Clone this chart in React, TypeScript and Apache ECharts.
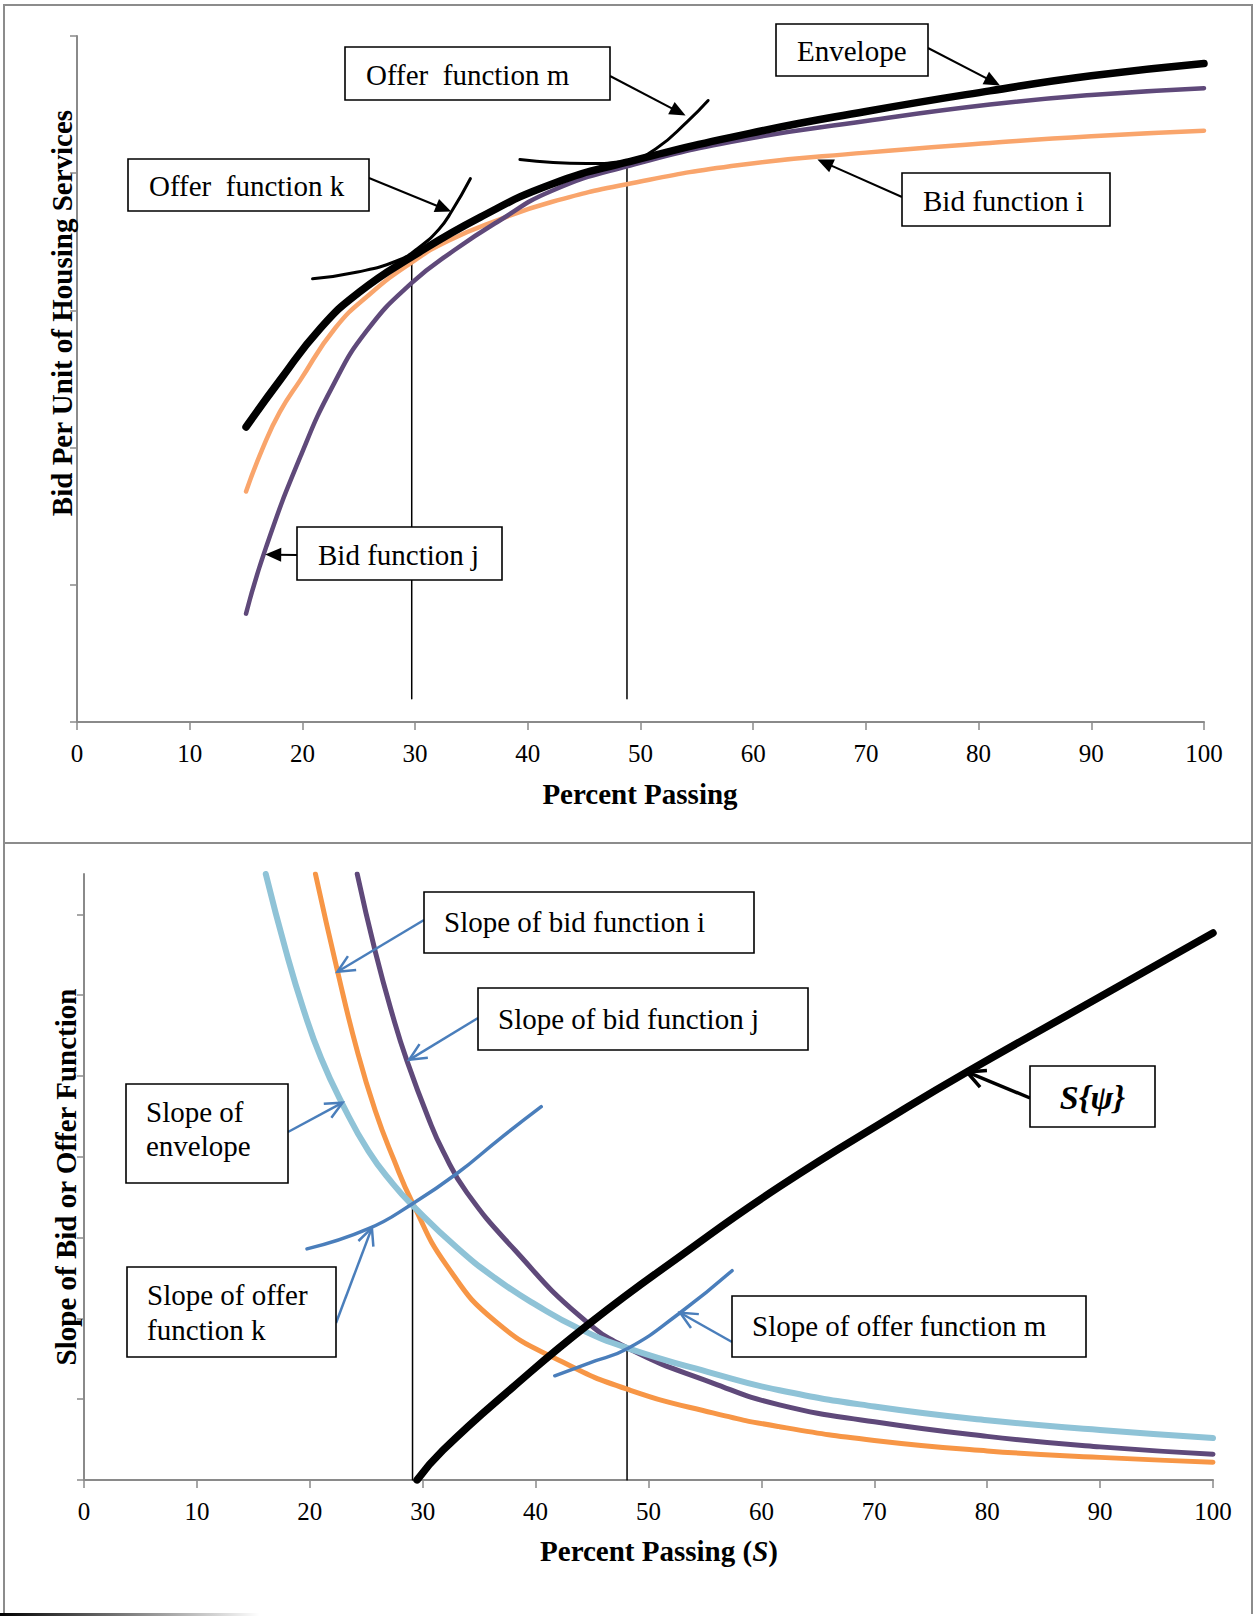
import React, { useEffect, useRef } from 'react';
import * as echarts from 'echarts';

// ---------- axis ticks ----------
const X_MIN = 0;
const X_MAX = 100;
const X_STEP = 10;
const TOP_Y_MAX = 5;
const BOT_Y_MAX = 7.5;
const BOT_Y_TICKS = [0, 1, 2, 3, 4, 5, 6, 7];

// ---------- top panel: bid / offer functions ----------
const envelope = [[15, 2.15], [18, 2.49], [21.6, 2.87], [25, 3.13], [29.7, 3.39], [35.8, 3.68], [42.1, 3.92], [48.8, 4.08], [59.7, 4.29], [70, 4.45], [81, 4.6], [90, 4.71], [100, 4.8]];
const bidI = [[15, 1.68], [16.5, 2.0], [18, 2.26], [19.8, 2.49], [22.9, 2.87], [26, 3.12], [29.7, 3.35], [33, 3.51], [37.4, 3.66], [42.1, 3.79], [48.8, 3.92], [58.8, 4.06], [70, 4.15], [81, 4.22], [90, 4.27], [100, 4.31]];
const bidJ = [[15, 0.79], [16.8, 1.28], [19.8, 1.93], [22.7, 2.45], [25.7, 2.85], [29.7, 3.2], [33.5, 3.44], [37.4, 3.65], [42.1, 3.87], [48.8, 4.05], [58.8, 4.24], [70, 4.38], [81, 4.5], [90, 4.57], [100, 4.62]];
const offerK = [[20.9, 3.23], [24.9, 3.28], [28.35, 3.36], [30.2, 3.45], [32.1, 3.59], [33.3, 3.73], [34.9, 3.96]];
const offerM = [[39.3, 4.1], [45.2, 4.07], [48.9, 4.09], [51.4, 4.18], [54.2, 4.38], [56.0, 4.53]];
const topDrop1 = [[29.7, 3.36], [29.7, 0.17]];
const topDrop2 = [[48.8, 4.07], [48.8, 0.17]];

// ---------- bottom panel: slopes ----------
const slopeEnvelope = [[16.1, 7.5], [17.9, 6.54], [19.45, 5.82], [21.0, 5.22], [22.9, 4.65], [25.2, 4.07], [27.4, 3.66], [29.1, 3.4], [33.0, 2.88], [36.4, 2.5], [40, 2.17], [43.9, 1.87], [48.2, 1.63], [55.7, 1.32], [61.6, 1.11], [70, 0.91], [80, 0.74], [90, 0.62], [100, 0.52]];
const slopeBidI = [[20.5, 7.5], [22.45, 6.3], [24.2, 5.31], [25.8, 4.57], [27.4, 3.98], [29.1, 3.43], [32.1, 2.66], [36.55, 1.95], [42.4, 1.46], [48.4, 1.11], [55.7, 0.83], [61.6, 0.66], [70, 0.49], [80, 0.36], [90, 0.28], [100, 0.22]];
const slopeBidJ = [[24.2, 7.5], [25.8, 6.54], [27.4, 5.72], [28.6, 5.19], [30.5, 4.48], [31.8, 4.07], [33.9, 3.56], [38.2, 2.84], [43.9, 2.03], [48.2, 1.63], [55.7, 1.2], [61.6, 0.93], [70, 0.72], [80, 0.54], [90, 0.41], [100, 0.32]];
const sPsi = [[29.5, 0], [31.8, 0.37], [38, 1.15], [44.8, 1.94], [52.8, 2.77], [61.6, 3.63], [72.3, 4.56], [78.2, 5.05], [90, 5.98], [100, 6.77]];
const slopeOfferK = [[19.75, 2.86], [25.2, 3.11], [29.1, 3.42], [33.0, 3.79], [36.8, 4.22], [40.5, 4.62]];
const slopeOfferM = [[41.7, 1.29], [44.8, 1.45], [48.2, 1.63], [52.8, 2.07], [57.4, 2.59]];
const botDrop1 = [[29.1, 3.4], [29.1, 0]];
const botDrop2 = [[48.1, 1.63], [48.1, 0]];

// ---------- annotation texts and arrow targets (data coords) ----------
const topLabels = ['Offer  function m', 'Offer  function k', 'Envelope', 'Bid function i', 'Bid function j'];
const topTips = [[54.0, 4.42], [33.2, 3.72], [81.9, 4.64], [65.7, 4.1], [16.7, 1.22]];
const botLabels = [['Slope of bid function i'], ['Slope of bid function j'], ['Slope of', 'envelope'], ['Slope of offer', 'function k'], ['Slope of offer function m']];
const botTips = [[22.45, 6.29], [28.8, 5.2], [22.9, 4.67], [25.5, 3.12], [52.8, 2.07]];
const psiLabel = 'S{ψ}';
const psiTip = [78.2, 5.05];

// ---------- layout (pixels) ----------
const W = 1255;
const H = 1617;
const FONT = '"Liberation Serif", "Times New Roman", serif';
const TOP_BOX_LAYOUT = [
  { x: 345, y: 47, w: 265, h: 53, from: [610, 76] },
  { x: 128, y: 159, w: 241, h: 52, from: [369, 178] },
  { x: 776, y: 24, w: 152, h: 52, from: [928, 48] },
  { x: 902, y: 173, w: 208, h: 53, from: [902, 197] },
  { x: 297, y: 527, w: 205, h: 53, from: [297, 555] },
];
const BOT_BOX_LAYOUT = [
  { x: 424, y: 892, w: 330, h: 61, from: [424, 920], ly: [922] },
  { x: 478, y: 988, w: 330, h: 62, from: [478, 1018], ly: [1019] },
  { x: 126, y: 1084, w: 162, h: 99, from: [288, 1132], ly: [1112, 1146] },
  { x: 127, y: 1267, w: 209, h: 90, from: [336, 1323], ly: [1295, 1330] },
  { x: 732, y: 1296, w: 354, h: 61, from: [732, 1342], ly: [1326] },
];
const PSI_BOX = { x: 1030, y: 1066, w: 125, h: 61, from: [1030, 1098] };

const AXIS_GRAY = '#8a8a8a';
const BLUE = '#4a7ebb';

function lineSeries(name: string, data: number[][], grid: number, color: string, width: number, z: number, smooth: boolean | number = 0.5) {
  return {
    type: 'line', name, data, xAxisIndex: grid, yAxisIndex: grid,
    showSymbol: false, symbol: 'none', smooth,
    lineStyle: { color, width, cap: 'round', join: 'round' },
    z, silent: true, animation: false,
  };
}

function xAxisDef(grid: number) {
  return {
    gridIndex: grid, type: 'value', min: X_MIN, max: X_MAX, interval: X_STEP,
    axisLine: { show: true, onZero: false, lineStyle: { color: AXIS_GRAY, width: 2 } },
    axisTick: { show: true, length: 8, lineStyle: { color: AXIS_GRAY, width: 1.5 } },
    axisLabel: { fontFamily: FONT, fontSize: 25, color: '#000', margin: 19 },
    splitLine: { show: false },
  };
}

function arrow(from: number[], tip: number[], color: string, lw: number, filled: boolean, len: number, half: number) {
  const dx = tip[0] - from[0];
  const dy = tip[1] - from[1];
  const L = Math.hypot(dx, dy) || 1;
  const ux = dx / L, uy = dy / L;
  const nx = -uy, ny = ux;
  const base = [tip[0] - ux * len, tip[1] - uy * len];
  const left = [base[0] + nx * half, base[1] + ny * half];
  const right = [base[0] - nx * half, base[1] - ny * half];
  const els: any[] = [];
  const end = filled ? [tip[0] - ux * len * 0.6, tip[1] - uy * len * 0.6] : tip;
  els.push({ type: 'line', z: 60, shape: { x1: from[0], y1: from[1], x2: end[0], y2: end[1] }, style: { stroke: color, lineWidth: lw } });
  if (filled) {
    els.push({ type: 'polygon', z: 61, shape: { points: [tip, left, right] }, style: { fill: color } });
  } else {
    els.push({ type: 'polyline', z: 61, shape: { points: [left, tip, right] }, style: { stroke: color, lineWidth: lw, lineJoin: 'miter' } });
  }
  return els;
}

function textEl(text: string, x: number, y: number, size: number, extra: any = {}) {
  return {
    type: 'text', x, y, z: 70,
    style: { text, fontFamily: FONT, fontSize: size, fill: '#000', textAlign: 'left', textVerticalAlign: 'middle', ...extra },
  };
}

export default function App() {
  const ref = useRef<HTMLDivElement>(null);
  useEffect(() => {
    const el = ref.current;
    if (!el) return;
    const chart = echarts.init(el, null, { renderer: 'svg', width: W, height: H });
    chart.setOption({
      animation: false,
      backgroundColor: '#ffffff',
      grid: [
        { left: 77, top: 36, width: 1127, height: 686 },
        { left: 84, top: 874, width: 1129, height: 606 },
      ],
      xAxis: [xAxisDef(0), xAxisDef(1)],
      yAxis: [
        {
          gridIndex: 0, type: 'value', min: 0, max: TOP_Y_MAX, interval: 1,
          axisLine: { show: true, onZero: false, lineStyle: { color: AXIS_GRAY, width: 2 } },
          axisTick: { show: true, length: 7, lineStyle: { color: AXIS_GRAY, width: 1.5 } },
          axisLabel: { show: false }, splitLine: { show: false },
        },
        {
          gridIndex: 1, type: 'value', min: 0, max: BOT_Y_MAX, interval: 1,
          axisLine: { show: true, onZero: false, lineStyle: { color: AXIS_GRAY, width: 2 } },
          axisTick: { show: true, length: 7, customValues: BOT_Y_TICKS, lineStyle: { color: AXIS_GRAY, width: 1.5 } },
          axisLabel: { show: false }, splitLine: { show: false },
        },
      ],
      series: [
        lineSeries('Bid function i', bidI, 0, '#f9a56c', 4.5, 3),
        lineSeries('Bid function j', bidJ, 0, '#5f497a', 4.5, 4),
        lineSeries('Envelope', envelope, 0, '#000000', 7.5, 5),
        lineSeries('Offer function k', offerK, 0, '#000000', 3, 6),
        lineSeries('Offer function m', offerM, 0, '#000000', 3, 6),
        lineSeries('drop k', topDrop1, 0, '#000000', 1.5, 2, false),
        lineSeries('drop m', topDrop2, 0, '#000000', 1.5, 2, false),
        lineSeries('Slope of bid function i', slopeBidI, 1, '#f79646', 5, 3),
        lineSeries('Slope of bid function j', slopeBidJ, 1, '#5f497a', 5, 4),
        lineSeries('Slope of envelope', slopeEnvelope, 1, '#8fc3d7', 6, 5),
        lineSeries('Slope of offer function k', slopeOfferK, 1, BLUE, 3.5, 6),
        lineSeries('Slope of offer function m', slopeOfferM, 1, BLUE, 3.5, 6),
        lineSeries('S(psi)', sPsi, 1, '#000000', 7.5, 7),
        lineSeries('drop k2', botDrop1, 1, '#000000', 1.5, 2, false),
        lineSeries('drop m2', botDrop2, 1, '#000000', 1.5, 2, false),
      ],
    });

    const px = (g: number, p: number[]) => chart.convertToPixel({ gridIndex: g } as any, p) as number[];
    const g: any[] = [];

    // panel frames
    g.push({ type: 'rect', z: 1, shape: { x: 4, y: 5, width: 1248, height: 838 }, style: { fill: 'none', stroke: '#8c8c8c', lineWidth: 2 } });
    g.push({ type: 'line', z: 1, shape: { x1: 4, y1: 843, x2: 4, y2: 1614 }, style: { stroke: '#8c8c8c', lineWidth: 2 } });
    g.push({ type: 'line', z: 1, shape: { x1: 1252, y1: 843, x2: 1252, y2: 1614 }, style: { stroke: '#8c8c8c', lineWidth: 2 } });
    g.push({
      type: 'rect', z: 1, shape: { x: 0, y: 1613, width: 260, height: 3 },
      style: { fill: new echarts.graphic.LinearGradient(0, 0, 1, 0, [{ offset: 0, color: '#000' }, { offset: 1, color: 'rgba(0,0,0,0)' }]) },
    });

    // axis titles
    g.push({
      type: 'text', x: 62, y: 313, rotation: Math.PI / 2, z: 70,
      style: { text: 'Bid Per Unit of Housing Services', fontFamily: FONT, fontSize: 29, fontWeight: 'bold', fill: '#000', textAlign: 'center', textVerticalAlign: 'middle' },
    });
    g.push({
      type: 'text', x: 640, y: 794, z: 70,
      style: { text: 'Percent Passing', fontFamily: FONT, fontSize: 29, fontWeight: 'bold', fill: '#000', textAlign: 'center', textVerticalAlign: 'middle' },
    });
    g.push({
      type: 'text', x: 66, y: 1177, rotation: Math.PI / 2, z: 70,
      style: { text: 'Slope of Bid or Offer Function', fontFamily: FONT, fontSize: 29, fontWeight: 'bold', fill: '#000', textAlign: 'center', textVerticalAlign: 'middle' },
    });
    g.push({
      type: 'text', x: 659, y: 1551, z: 70,
      style: {
        text: '{b|Percent Passing (}{bi|S}{b|)}', textAlign: 'center', textVerticalAlign: 'middle', fill: '#000',
        rich: {
          b: { fontFamily: FONT, fontSize: 29, fontWeight: 'bold', fill: '#000' },
          bi: { fontFamily: FONT, fontSize: 29, fontWeight: 'bold', fontStyle: 'italic', fill: '#000' },
        },
      },
    });

    // top annotations
    TOP_BOX_LAYOUT.forEach((b, i) => {
      g.push(...arrow(b.from, px(0, topTips[i]), '#000', 2, true, 16, 7));
      g.push({ type: 'rect', z: 65, shape: { x: b.x, y: b.y, width: b.w, height: b.h }, style: { fill: '#fff', stroke: '#000', lineWidth: 1.6 } });
      g.push(textEl(topLabels[i], b.x + 21, b.y + b.h / 2 + 1, 29));
    });

    // bottom annotations
    BOT_BOX_LAYOUT.forEach((b, i) => {
      g.push(...arrow(b.from, px(1, botTips[i]), BLUE, 2.5, false, 17, 8));
      g.push({ type: 'rect', z: 65, shape: { x: b.x, y: b.y, width: b.w, height: b.h }, style: { fill: '#fff', stroke: '#000', lineWidth: 1.6 } });
      botLabels[i].forEach((t, k) => g.push(textEl(t, b.x + 20, b.ly[k], 29)));
    });

    g.push(...arrow(PSI_BOX.from, px(1, psiTip), '#000', 3.5, false, 18, 9));
    g.push({ type: 'rect', z: 65, shape: { x: PSI_BOX.x, y: PSI_BOX.y, width: PSI_BOX.w, height: PSI_BOX.h }, style: { fill: '#fff', stroke: '#000', lineWidth: 1.6 } });
    g.push({
      type: 'text', x: PSI_BOX.x + PSI_BOX.w / 2, y: PSI_BOX.y + PSI_BOX.h / 2 + 1, z: 70,
      style: { text: psiLabel, fontFamily: FONT, fontSize: 34, fontWeight: 'bold', fontStyle: 'italic', fill: '#000', textAlign: 'center', textVerticalAlign: 'middle' },
    });

    chart.setOption({ graphic: { elements: g } });
    return () => chart.dispose();
  }, []);
  return <div ref={ref} style={{ position: 'absolute', left: 0, top: 0, width: W, height: H, background: '#fff' }} />;
}
